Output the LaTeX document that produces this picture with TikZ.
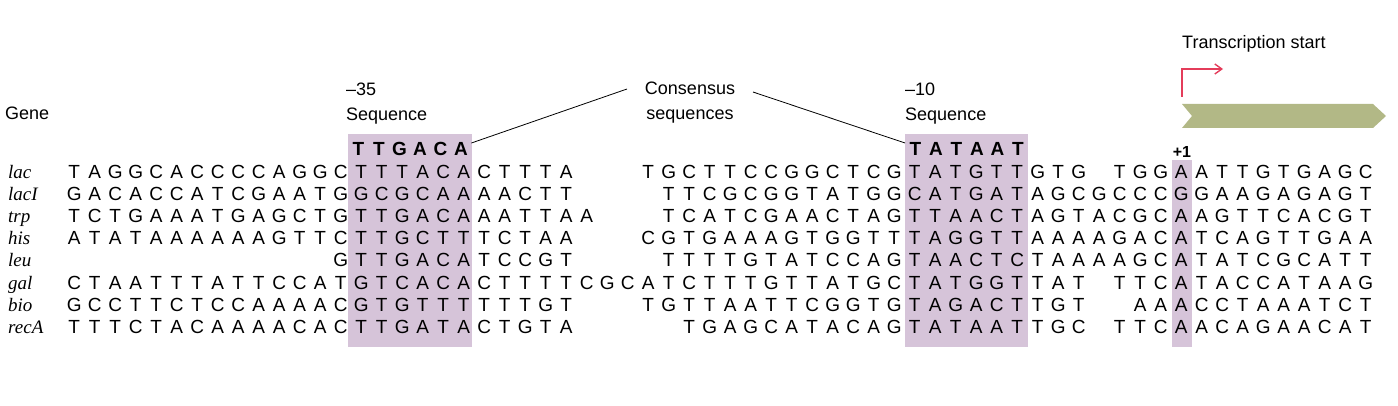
\documentclass[tikz,border=0pt]{standalone}
\usetikzlibrary{arrows.meta}
\usepackage{fontspec}
\setmainfont{Liberation Sans}
\newfontfamily\genefont{Liberation Serif}
\definecolor{boxpurple}{RGB}{214,196,217}
\definecolor{bandgreen}{RGB}{178,184,134}
\definecolor{startred}{RGB}{228,60,90}
\def\dnaloop#1{\ifx\relax#1\else\makebox[20.5pt]{\ifx-#1\else#1\fi}\expandafter\dnaloop\fi}
\begin{document}
\begin{tikzpicture}[x=1pt,y=1pt,
  seqrow/.style={anchor=base west,inner sep=0pt,font=\fontsize{19}{19}\selectfont},
  genelab/.style={anchor=base west,inner sep=0pt,font=\genefont\itshape\fontsize{19}{19}\selectfont},
  lab/.style={anchor=base west,inner sep=0pt,font=\fontsize{18}{18}\selectfont},
  cons/.style={anchor=base west,inner sep=0pt,font=\bfseries\fontsize{19}{19}\selectfont}]
\useasboundingbox (0,0) rectangle (1398,-406);
% highlight boxes
\fill[boxpurple] (348,-134) rectangle (472,-347);
\fill[boxpurple] (905,-134) rectangle (1028,-347);
\fill[boxpurple] (1172,-160) rectangle (1192,-347);
% consensus letters
\node[cons] (c35) at (348,-156) {\dnaloop TTGACA\relax};
\node[cons] (c10) at (905,-156) {\dnaloop TATAAT\relax};
\node[anchor=base,inner sep=0pt,font=\bfseries\fontsize{16}{16}\selectfont] (p1) at (1182,-158) {+1};
% headings
\node[lab] (gene) at (5,-120) {Gene};
\node[lab] (m35) at (346,-96) {–35};
\node[lab] (s35) at (346,-121) {Sequence};
\node[lab] (m10) at (905,-96) {–10};
\node[lab] (s10) at (905,-121) {Sequence};
\node[lab,anchor=base] (cs1) at (690,-95) {Consensus};
\node[lab,anchor=base] (cs2) at (690,-120) {sequences};
\node[lab] (ts) at (1182,-49) {Transcription start};
\coordinate (l1) at (627,-89);
\coordinate (l2) at (753,-92);
\draw[line width=0.8pt] (l1) -- (c35.east |- 0,-143);
\draw[line width=0.8pt] (l2) -- (c10.west |- 0,-143);
% red arrow
\coordinate (r0) at (1182,-97);
\coordinate (r1) at (1182,-69);
\coordinate (r2) at (1223,-69);
\draw[startred,line width=1.4pt,-{Straight Barb[length=7pt,width=10pt]}] (r0) -- (r1) -- (r2);
% green band
\fill[bandgreen] (1182,-104) -- (1373,-104) -- (1386,-116) -- (1373,-128) -- (1182,-128) -- (1192,-116) -- cycle;
% rows
\foreach \g/\s/\y in {
 lac/TAGGCACCCCAGGCTTTACACTTTA---TGCTTCCGGCTCGTATGTTGTG-TGGAATTGTGAGC/179,
 lacI/GACACCATCGAATGGCGCAAAACTT----TTCGCGGTATGGCATGATAGCGCCCGGAAGAGAGT/201,
 trp/TCTGAAATGAGCTGTTGACAAATTAA---TCATCGAACTAGTTAACTAGTACGCAAGTTCACGT/223,
 his/ATATAAAAAAGTTCTTGCTTTCTAA---CGTGAAAGTGGTTTAGGTTAAAAGACATCAGTTGAA/245,
 leu/-------------GTTGACATCCGT----TTTTGTATCCAGTAACTCTAAAAGCATATCGCATT/267,
 gal/CTAATTTATTCCATGTCACACTTTTCGCATCTTTGTTATGCTATGGTTAT-TTCATACCATAAG/289,
 bio/GCCTTCTCCAAAACGTGTTTTTTGT---TGTTAATTCGGTGTAGACTTGT--AAACCTAAATCT/311,
 recA/TTTCTACAAAACACTTGATACTGTA-----TGAGCATACAGTATAATTGC-TTCAACAGAACAT/333}{
 \node[genelab] (g\g) at (8,-\y) {\g};
 \node[seqrow] (s\g) at (63.75,-\y) {\expandafter\dnaloop\s\relax};
}
\end{tikzpicture}
\end{document}
